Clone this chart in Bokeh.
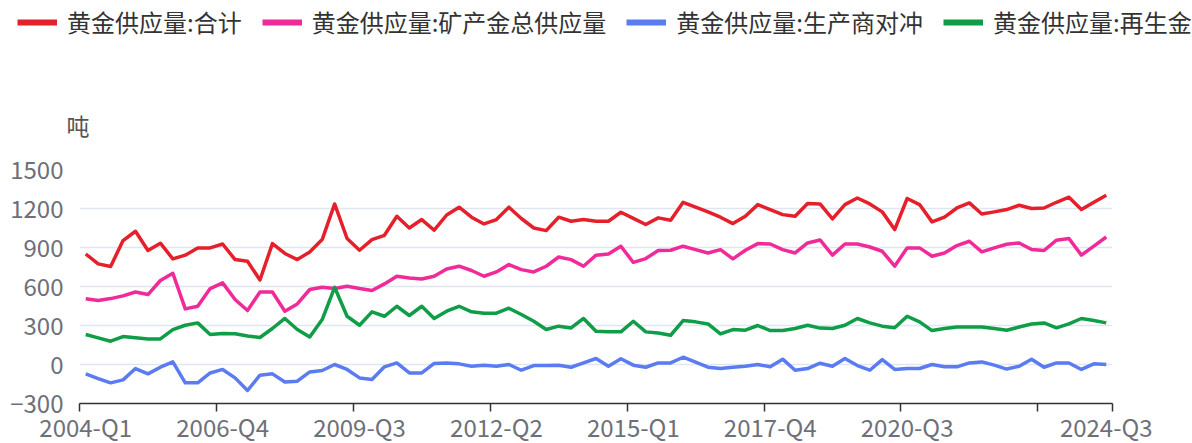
from bokeh.plotting import figure
from bokeh.models import Range1d, FixedTicker, Legend, LegendItem, ColumnDataSource
from bokeh.embed import file_html
from bokeh.resources import INLINE

# ---- data ----
quarters = [f"{y}-Q{q}" for y in range(2004, 2025) for q in range(1, 5)][:83]

total = [850, 774, 754, 953, 1025, 877, 933, 812, 841, 897, 897, 927, 807, 794, 650,
         930, 854, 807, 866, 961, 1235, 969, 879, 961, 994, 1140, 1050, 1115, 1033, 1150,
         1210, 1133, 1081, 1115, 1210, 1123, 1050, 1030, 1133, 1102, 1115, 1102, 1102, 1171,
         1124, 1077, 1128, 1110, 1248, 1210, 1174, 1133, 1084, 1140, 1230, 1192, 1153, 1140,
         1238, 1235, 1120, 1230, 1281, 1235, 1174, 1038, 1277, 1230, 1097, 1133, 1204, 1243,
         1158, 1174, 1192, 1225, 1200, 1204, 1248, 1287, 1192, 1248, 1302]

mine = [505, 492, 507, 528, 558, 538, 646, 702, 428, 448, 584, 628, 500, 415, 557,
        558, 410, 466, 577, 594, 584, 602, 584, 569, 620, 679, 666, 658, 679, 734,
        756, 723, 679, 712, 769, 730, 712, 756, 827, 807, 756, 841, 850, 910,
        785, 815, 877, 879, 910, 884, 858, 884, 812, 879, 930, 927, 884, 858,
        935, 958, 841, 927, 927, 904, 871, 756, 897, 897, 833, 858, 915, 948,
        866, 897, 925, 935, 884, 877, 956, 969, 841, 910, 981]

hedging = [-72, -108, -141, -118, -31, -72, -21, 20, -141, -141, -65, -38, -103, -200, -82,
           -72, -134, -128, -57, -46, 0, -38, -103, -115, -18, 12, -65, -65, 8, 12,
           5, -13, -5, -13, 0, -44, -8, -8, -5, -21, 12, 46, -13, 44,
           -5, -21, 12, 12, 56, 18, -21, -31, -21, -13, 0, -18, 41, -44,
           -31, 10, -13, 46, -8, -44, 38, -38, -31, -31, 0, -18, -18, 12,
           20, -5, -35, -13, 41, -21, 12, 12, -38, 5, 0]

recycled = [231, 205, 179, 215, 205, 197, 197, 269, 302, 320, 231, 238, 236, 220, 208,
            277, 354, 269, 212, 346, 594, 371, 302, 405, 371, 448, 377, 448, 354, 410,
            448, 405, 395, 395, 433, 385, 333, 269, 295, 281, 354, 256, 251, 251,
            333, 251, 243, 225, 338, 328, 312, 235, 269, 264, 300, 261, 261, 277,
            302, 280, 277, 302, 354, 320, 295, 282, 371, 328, 261, 277, 289, 289,
            289, 277, 264, 288, 312, 320, 282, 312, 354, 338, 320]

series_names = ["黄金供应量:合计", "黄金供应量:矿产金总供应量", "黄金供应量:生产商对冲", "黄金供应量:再生金"]
series_colors = ["#e5202b", "#f02a98", "#5b7cf0", "#0f9d47"]

tick_labels = ["2004-Q1", "2006-Q4", "2009-Q3", "2012-Q2", "2015-Q1", "2017-Q4", "2020-Q3", "2024-Q3"]
y_ticks = [-300, 0, 300, 600, 900, 1200, 1500]
unit_label = "吨"

FONT = "Noto Sans CJK SC"
LEGEND_H = 46

n = len(quarters)
src = ColumnDataSource(dict(x=list(range(n)), total=total, mine=mine,
                            hedging=hedging, recycled=recycled))
cols = ["total", "mine", "hedging", "recycled"]

# ---- legend strip: its own small figure (the keys' lines lie outside its view) ----
lg = figure(width=1192, height=LEGEND_H, output_backend="svg", toolbar_location=None,
            x_range=Range1d(-1000, -999), y_range=Range1d(-1000, -999),
            x_axis_type=None, y_axis_type=None, min_border=0)
lg.outline_line_color = None
lg.xgrid.visible = False
lg.ygrid.visible = False
items = []
for col, name, color in zip(cols, series_names, series_colors):
    r_key = lg.line(x="x", y=col, source=src, line_width=6, line_color=color)
    items.append(LegendItem(label=name, renderers=[r_key]))
legend = Legend(items=items, orientation="horizontal", location=(17, 7),
                label_text_font=FONT, label_text_font_size="24px",
                label_text_color="#333333", glyph_width=40, glyph_height=24,
                label_standoff=10, spacing=20, padding=0, margin=0,
                border_line_color=None, background_fill_alpha=0)
lg.add_layout(legend)

# ---- main chart ----
p = figure(frame_width=1033, frame_height=234, output_backend="svg", toolbar_location=None,
           x_range=Range1d(-0.5, n - 0.5), y_range=Range1d(-300, 1500),
           min_border_left=79, min_border_right=80, min_border_top=169 - LEGEND_H,
           min_border_bottom=0)
p.outline_line_color = None

# x axis: labels at category centres, tick marks at category boundaries
tick_idx = [quarters.index(t) for t in tick_labels]
boundaries = [i - 0.5 for i in range(0, n, 11)] + [n - 0.5]
p.xaxis.ticker = FixedTicker(ticks=tick_idx, minor_ticks=boundaries)
p.xaxis.major_label_overrides = {i: quarters[i] for i in tick_idx}
p.xaxis.major_tick_line_color = None
p.xaxis.major_tick_out = 0
p.xaxis.major_tick_in = 0
p.xaxis.minor_tick_line_color = "#333333"
p.xaxis.minor_tick_line_width = 1.5
p.xaxis.minor_tick_out = 8
p.xaxis.minor_tick_in = 0
p.xaxis.axis_line_color = "#333333"
p.xaxis.axis_line_width = 1.5
p.xaxis.major_label_standoff = -3
p.xaxis.major_label_text_font = FONT
p.xaxis.major_label_text_font_size = "24px"
p.xaxis.major_label_text_color = "#6e7079"
p.xgrid.visible = False

# y axis
p.yaxis.ticker = FixedTicker(ticks=y_ticks)
p.yaxis.axis_line_color = None
p.yaxis.major_tick_line_color = None
p.yaxis.minor_tick_line_color = None
p.yaxis.major_tick_out = 0
p.yaxis.major_tick_in = 0
p.yaxis.major_label_standoff = 16
p.yaxis.major_label_text_font = FONT
p.yaxis.major_label_text_font_size = "24px"
p.yaxis.major_label_text_color = "#6e7079"
p.ygrid.ticker = FixedTicker(ticks=y_ticks[1:])
p.ygrid.grid_line_color = "#e0e6f1"
p.ygrid.grid_line_width = 1.5

# unit name
p.title.text = unit_label
p.title.align = "left"
p.title.offset = -13
p.title.standoff = 56
p.title.text_font = FONT
p.title.text_font_size = "23px"
p.title.text_font_style = "normal"
p.title.text_color = "#555555"

# lines
for col, color in zip(cols, series_colors):
    p.line(x="x", y=col, source=src, line_width=3.5, line_color=color,
           line_join="round")

open("out.html", "w").write(file_html([lg, p], INLINE))
